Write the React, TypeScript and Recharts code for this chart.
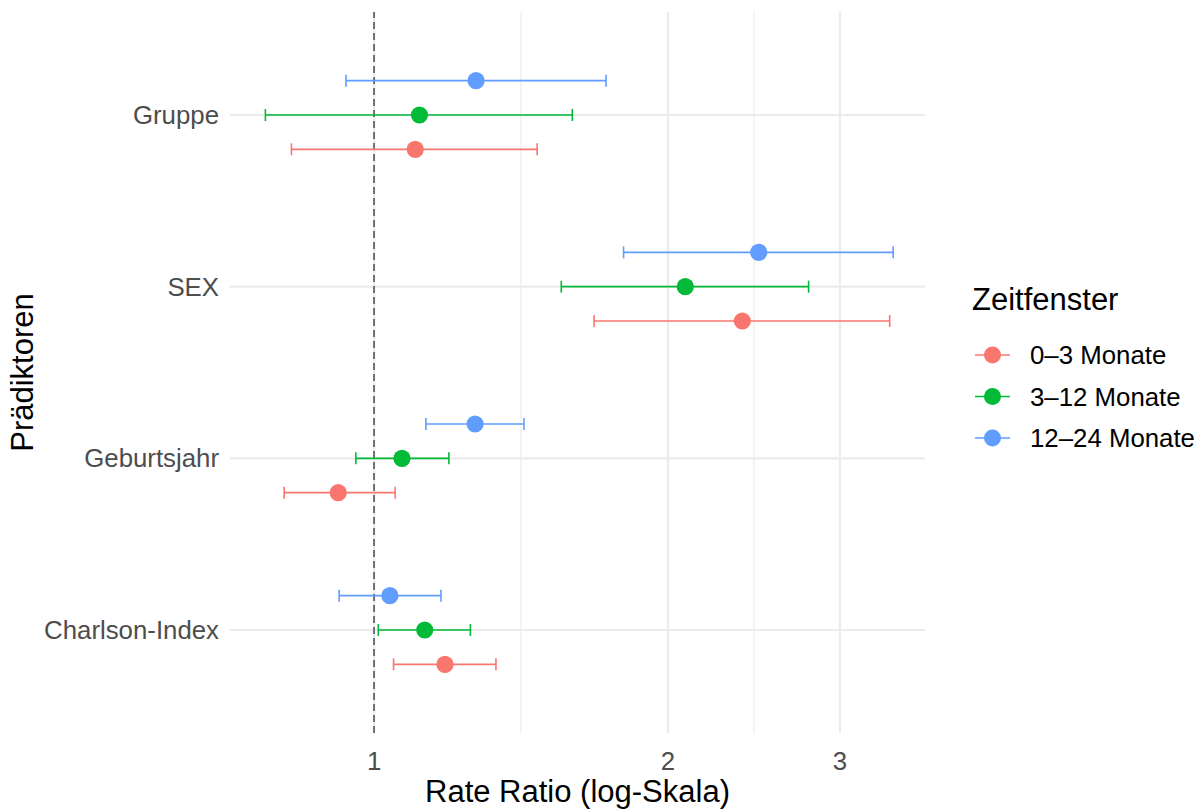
import React from 'react';
import {
  ComposedChart,
  Scatter,
  XAxis,
  YAxis,
  ReferenceLine,
  ErrorBar,
  Legend,
  Label,
} from 'recharts';

// ---- data ----
const PREDICTORS = ['Gruppe', 'SEX', 'Geburtsjahr', 'Charlson-Index'];
const WINDOWS = ['0–3 Monate', '3–12 Monate', '12–24 Monate'];
const COLORS = ['#F8766D', '#00BA38', '#619CFF'];
const DODGE = [-0.2, 0, 0.2];

// values in PREDICTORS order
const RR_0_3 = [1.102, 2.383, 0.919, 1.182];
const LO_0_3 = [0.823, 1.68, 0.809, 1.047];
const HI_0_3 = [1.469, 3.373, 1.051, 1.333];

const RR_3_12 = [1.113, 2.083, 1.068, 1.127];
const LO_3_12 = [0.774, 1.555, 0.958, 1.01];
const HI_3_12 = [1.596, 2.786, 1.193, 1.255];

const RR_12_24 = [1.272, 2.477, 1.269, 1.038];
const LO_12_24 = [0.936, 1.801, 1.13, 0.921];
const HI_12_24 = [1.728, 3.401, 1.424, 1.171];

const X_TICKS = [1, 2, 3];
const X_MINOR = [1.414, 2.449];
const X_DOMAIN = [0.712, 3.666];
const Y_TICKS = [1, 2, 3, 4];
const Y_DOMAIN = [0.4, 4.6];

const FONT = '"Liberation Sans", Arial, sans-serif';
const TEXT_SIZE = 25.8;
const TITLE_SIZE = 31;

const SERIES_VALUES = [
  { rr: RR_0_3, lo: LO_0_3, hi: HI_0_3 },
  { rr: RR_3_12, lo: LO_3_12, hi: HI_3_12 },
  { rr: RR_12_24, lo: LO_12_24, hi: HI_12_24 },
];

const seriesData = SERIES_VALUES.map((s, si) =>
  PREDICTORS.map((p, pi) => ({
    predictor: p,
    y: PREDICTORS.length - pi + DODGE[si],
    x: s.rr[pi],
    err: [s.rr[pi] - s.lo[pi], s.hi[pi] - s.rr[pi]],
  }))
);

const yLabel = (v: number) => PREDICTORS[PREDICTORS.length - v] ?? '';

const LegendBox = () => (
  <svg width={243} height={200} style={{ display: 'block' }}>
    <text x={12} y={40} fontFamily={FONT} fontSize={TITLE_SIZE} fill="#000">
      Zeitfenster
    </text>
    {WINDOWS.map((w, i) => {
      const cy = 85 + i * 41.5;
      return (
        <g key={w}>
          <line x1={15} x2={50} y1={cy} y2={cy} stroke={COLORS[i]} strokeWidth={1.6} />
          <circle cx={32.5} cy={cy} r={8.5} fill={COLORS[i]} />
          <text x={70} y={cy + 9} fontFamily={FONT} fontSize={TEXT_SIZE} fill="#000">
            {w}
          </text>
        </g>
      );
    })}
  </svg>
);

export default function App() {
  return (
    <div style={{ position: 'absolute', left: 0, top: 0, width: 1203, height: 809, background: '#fff' }}>
      <ComposedChart
        width={1203}
        height={809}
        margin={{ top: 12, right: 278, bottom: 0, left: 0 }}
        style={{ fontFamily: FONT }}
      >
        {X_MINOR.map((m) => (
          <ReferenceLine key={'minor' + m} x={m} stroke="#EBEBEB" strokeWidth={1.1} />
        ))}
        {X_TICKS.map((t) => (
          <ReferenceLine key={'vx' + t} x={t} stroke="#EBEBEB" strokeWidth={2.2} />
        ))}
        {Y_TICKS.map((t) => (
          <ReferenceLine key={'hy' + t} y={t} stroke="#EBEBEB" strokeWidth={2.2} />
        ))}
        <XAxis
          type="number"
          dataKey="x"
          scale="log"
          domain={X_DOMAIN}
          allowDataOverflow
          ticks={X_TICKS}
          tickFormatter={(v: number) => String(v)}
          axisLine={false}
          tickLine={false}
          tickSize={0}
          tickMargin={19}
          height={76}
          tick={{ fill: '#4D4D4D', fontSize: TEXT_SIZE, fontFamily: FONT }}
        >
          <Label
            content={(props: any) => {
              const vb = props.viewBox || { x: 230, y: 733, width: 695 };
              return (
                <text
                  x={vb.x + vb.width / 2}
                  y={vb.y + 69}
                  textAnchor="middle"
                  fontFamily={FONT}
                  fontSize={TITLE_SIZE}
                  fill="#000"
                >
                  Rate Ratio (log-Skala)
                </text>
              );
            }}
          />
        </XAxis>
        <YAxis
          type="number"
          dataKey="y"
          domain={Y_DOMAIN}
          allowDataOverflow
          ticks={Y_TICKS}
          tickFormatter={yLabel}
          axisLine={false}
          tickLine={false}
          tickSize={0}
          tickMargin={11}
          width={230}
          tick={{ fill: '#4D4D4D', fontSize: TEXT_SIZE, fontFamily: FONT }}
        >
          <Label
            content={(props: any) => {
              const vb = props.viewBox || { x: 0, y: 12, height: 721 };
              const cx = vb.x + 33;
              const cy = vb.y + vb.height / 2;
              return (
                <text
                  x={cx}
                  y={cy}
                  transform={`rotate(-90, ${cx}, ${cy})`}
                  textAnchor="middle"
                  fontFamily={FONT}
                  fontSize={TITLE_SIZE}
                  fill="#000"
                >
                  Prädiktoren
                </text>
              );
            }}
          />
        </YAxis>
        <ReferenceLine x={1} stroke="#555555" strokeWidth={1.6} strokeDasharray="7 4" />
        {seriesData.map((data, si) => (
          <Scatter
            key={WINDOWS[si]}
            name={WINDOWS[si]}
            data={data}
            dataKey="x"
            fill={COLORS[si]}
            isAnimationActive={false}
            shape={(p: any) => <circle cx={p.cx} cy={p.cy} r={8.6} fill={COLORS[si]} />}
          >
            <ErrorBar
              dataKey="err"
              direction="x"
              width={6}
              stroke={COLORS[si]}
              strokeWidth={1.6}
              isAnimationActive={false}
            />
          </Scatter>
        ))}
        <Legend
          layout="vertical"
          align="center"
          verticalAlign="middle"
          wrapperStyle={{ left: 960, top: 270, width: 243, height: 200 }}
          content={() => <LegendBox />}
        />
      </ComposedChart>
    </div>
  );
}
